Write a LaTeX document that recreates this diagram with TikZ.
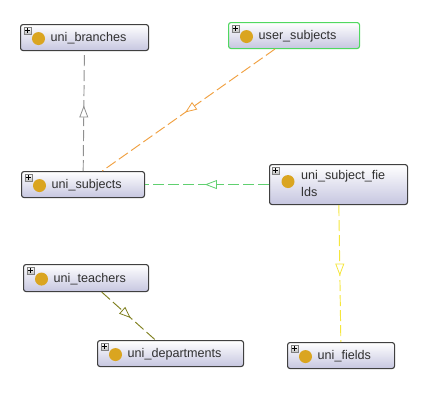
\documentclass[tikz,border=0pt]{standalone}
\usepackage{fontspec}
\setmainfont{Liberation Sans}
\usetikzlibrary{calc}
\definecolor{goldc}{HTML}{DAA520}
\definecolor{orangeL}{HTML}{F0A040}
\definecolor{greenL}{HTML}{60D070}
\definecolor{yellowL}{HTML}{F5E63C}
\definecolor{oliveL}{HTML}{808020}
\definecolor{grayL}{HTML}{909090}
\definecolor{greenB}{HTML}{50D860}
\definecolor{lav}{HTML}{C6C6E0}
\definecolor{ink}{HTML}{303030}
\tikzset{
  x=1pt,y=-1pt,
  cls/.style={draw=black!75,line width=1.1pt,rounded corners=2.5pt,top color=white,bottom color=lav,
    inner sep=0pt,anchor=north west},
  lbl/.style={inner sep=0pt,align=left,font=\fontsize{12.6}{16.5}\selectfont,text=ink},
  link/.style={line width=0.95pt,dash pattern=on 11pt off 4pt},
  head/.style={draw=#1,fill=white,line width=0.8pt,line join=miter},
  dot/.style={circle,fill=goldc,draw=none,minimum size=13pt,inner sep=0pt},
  plusbox/.style={draw=black!50,top color=white,bottom color=black!25,minimum size=7.5pt,inner sep=0pt,line width=0.5pt,
    path picture={\draw[black,line width=0.8pt] (path picture bounding box.center) ++(-2.5pt,0) -- ++(5pt,0) ++(-2.5pt,-2.5pt) -- ++(0,5pt);}},
}
\newcommand{\classbox}[7][black!75]{%
  \node[cls,draw=#1,minimum width=#5pt,minimum height=#6pt] (#2) at (#3,#4) {};
}
\begin{document}
\begin{tikzpicture}
\useasboundingbox (0,0) rectangle (441,415);
\classbox{br}{20}{24}{128}{26}{}
\classbox{su}{21}{171}{123}{26}{}
\classbox[greenB]{us}{228}{22}{131}{26}{}
\classbox{sf}{269}{164}{138}{40}{}
\classbox{te}{23}{264}{125}{27}{}
\classbox{de}{97}{340}{146}{26}{}
\classbox{fi}{287}{342}{107}{26}{}
% connectors
\draw[link,grayL] (su) -- (br);
\draw[link,orangeL] (us) -- (su);
\draw[link,greenL] (sf) -- (su);
\draw[link,yellowL] (sf) -- (fi);
\draw[link,oliveL] (te) -- (de);
% arrowheads
\path (su.center) -- (br.center) coordinate[pos=0.493] (a1);
\draw[head=grayL,shift={(a1)}] (0,-5.5) -- (-4,5) -- (4,5) -- cycle;
\path (us.center) -- (su.center) coordinate[pos=0.49] (a2);
\draw[head=orangeL,shift={(a2)},rotate=-144.7] (5.5,0) -- (-4.5,4) -- (-4.5,-4) -- cycle;
\path (sf.center) -- (su.center) coordinate[pos=0.497] (a3);
\draw[head=greenL,shift={(a3)}] (-5.5,0) -- (5,-4) -- (5,4) -- cycle;
\path (sf.center) -- (fi.center) coordinate[pos=0.494] (a4);
\draw[head=yellowL,shift={(a4)}] (0,5.5) -- (-4,-5) -- (4,-5) -- cycle;
\path (te.center) -- (de.center) coordinate[pos=0.47] (a5);
\draw[head=oliveL,shift={(a5)},rotate=-42] (5.5,0) -- (-4.5,4) -- (-4.5,-4) -- cycle;
% decorations and labels
\foreach \n/\t in {br/uni\_branches,su/uni\_subjects,us/user\_subjects,te/uni\_teachers,de/uni\_departments,fi/uni\_fields}{
  \node[dot] (\n d) at ($(\n.west)+(18.5,1)$) {};
  \node[plusbox] (\n p) at ($(\n.north west)+(7.5,6.5)$) {};
  \node[lbl,anchor=west] (\n t) at ($(\n.west)+(30.5,1)$) {\t};
}
\node[dot] (sfd) at ($(sf.west)+(19,-3)$) {};
\node[plusbox] (sfp) at ($(sf.north west)+(6.5,6.5)$) {};
\node[lbl,anchor=north west] (sft) at ($(sf.north west)+(32,6.5)$) {uni\_subject\_fie\\lds};
\end{tikzpicture}
\end{document}
